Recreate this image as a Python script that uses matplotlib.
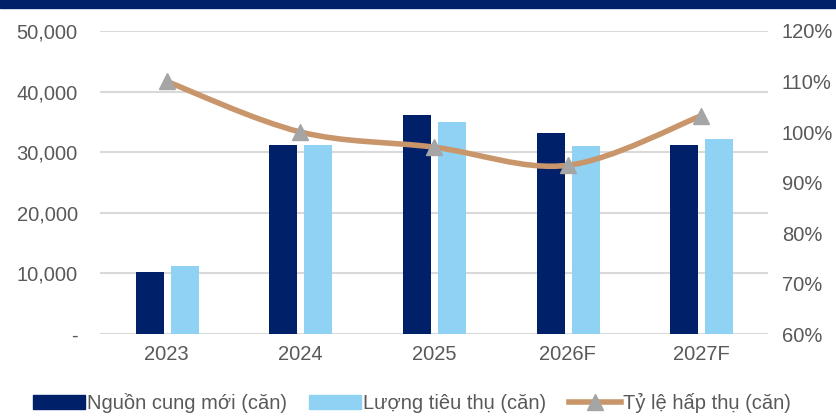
import matplotlib.pyplot as plt
import numpy as np
from matplotlib.path import Path
from matplotlib.patches import PathPatch, Rectangle
from matplotlib.lines import Line2D
from matplotlib.ticker import FuncFormatter

plt.rcParams['font.family'] = ['Liberation Sans', 'DejaVu Sans']

years = ['2023', '2024', '2025', '2026F', '2027F']
supply = [10200, 31200, 36100, 33200, 31200]
sales = [11200, 31200, 35000, 31000, 32200]
absorption = [110.0, 100.0, 97.0, 93.4, 103.2]

navy = '#002169'
light = '#8FD2F3'
tan = '#C9966C'
grey_txt = '#595959'
grid_c = '#D9D9D9'

fig = plt.figure(figsize=(8.37, 4.19), dpi=100)
fig.patches.append(Rectangle((0, 1 - 8 / 419), 1, 8 / 419, transform=fig.transFigure,
                             color=navy, zorder=0))
ax = fig.add_axes([100 / 837, 1 - 334 / 419, 668 / 837, 303 / 419])
ax2 = ax.twinx()

x = np.arange(len(years))
w = 0.21
ax.bar(x - 0.127, supply, w, color=navy, zorder=3)
ax.bar(x + 0.135, sales, w, color=light, zorder=3)

ax.set_xlim(-0.5, len(years) - 0.5)
ax.set_ylim(0, 50000)
ax.set_yticks(np.arange(0, 50001, 10000))
ax.yaxis.set_major_formatter(FuncFormatter(lambda v, p: '-' if v == 0 else f'{int(v):,}'))
ax.set_xticks(x)
ax.set_xticklabels(years)
ax.grid(axis='y', color=grid_c, linewidth=1.5, zorder=0)
ax.set_axisbelow(True)
for s in ax.spines.values():
    s.set_visible(False)
for s in ax2.spines.values():
    s.set_visible(False)
ax.tick_params(axis='both', length=0, labelsize=14.5, labelcolor=grey_txt)
ax.tick_params(axis='y', pad=16)
ax.tick_params(axis='x', pad=8)

ax2.set_ylim(60, 120)
ax2.set_yticks(np.arange(60, 121, 10))
ax2.yaxis.set_major_formatter(FuncFormatter(lambda v, p: f'{int(v)}%'))
ax2.tick_params(axis='y', length=0, labelsize=14.5, labelcolor=grey_txt, pad=10)

# smoothed line (Catmull-Rom -> cubic Bezier)
pts = np.column_stack([x, absorption]).astype(float)
verts = [tuple(pts[0])]
codes = [Path.MOVETO]
for i in range(len(pts) - 1):
    p0 = pts[i - 1] if i > 0 else pts[i]
    p1, p2 = pts[i], pts[i + 1]
    p3 = pts[i + 2] if i + 2 < len(pts) else pts[i + 1]
    c1 = p1 + (p2 - p0) / 6
    c2 = p2 - (p3 - p1) / 6
    verts += [tuple(c1), tuple(c2), tuple(p2)]
    codes += [Path.CURVE4] * 3
ax2.add_patch(PathPatch(Path(verts, codes), facecolor='none', edgecolor=tan,
                        linewidth=4, zorder=4, capstyle='round'))
ax2.plot(x, absorption, linestyle='none', marker='^', markersize=12,
         color='#A5A5A5', zorder=5)

handles = [
    Rectangle((0, 0), 1, 1, color=navy),
    Rectangle((0, 0), 1, 1, color=light),
    Line2D([], [], color=tan, linewidth=4, marker='^', markersize=11,
           markerfacecolor='#A5A5A5', markeredgecolor='#A5A5A5'),
]
labels = ['Nguồn cung mới (căn)', 'Lượng tiêu thụ (căn)', 'Tỷ lệ hấp thụ (căn)']
leg = fig.legend(handles, labels, loc='lower center', bbox_to_anchor=(0.492, -0.03),
                 ncol=3, frameon=False, fontsize=14.5, handlelength=2.6,
                 handletextpad=0.1, columnspacing=1.1)
for t in leg.get_texts():
    t.set_color(grey_txt)

fig.savefig('out.png', dpi=100)
